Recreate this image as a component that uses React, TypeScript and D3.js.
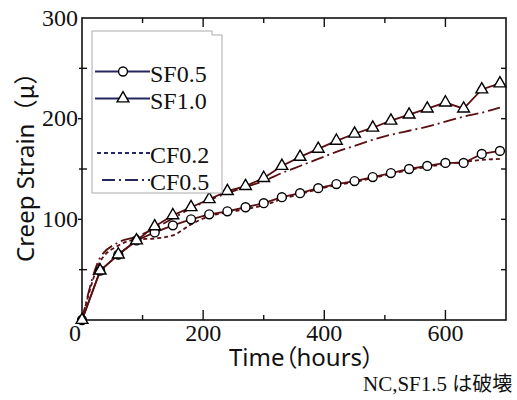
import { useEffect, useRef } from 'react';
import * as d3 from 'd3';

// measured every 30 hours
const hours = [0, 30, 60, 90, 120, 150, 180, 210, 240, 270, 300, 330, 360, 390, 420, 450, 480, 510, 540, 570, 600, 630, 660, 690];
const sf05 = [0, 49, 65, 79, 87, 94, 100, 105, 108, 112, 116, 122, 126, 131, 135, 138, 142, 146, 150, 153, 156, 156, 165, 168];
const sf10 = [0, 49, 65, 79, 93, 104, 112, 120, 128, 133, 141, 153, 162, 170, 178, 185, 191, 198, 204, 210, 216, 210, 229, 235];
const cf02 = [0, 58, 74, 80, 81, 84, 95, 103, 107, 110, 114, 120, 125, 130, 134, 137, 141, 145, 149, 152, 155, 157, 159, 160];
const cf05 = [0, 62, 77, 83, 91, 101, 111, 119, 126, 132, 138, 146, 153, 160, 167, 173, 179, 184, 188, 192, 197, 202, 206, 211];

const xMajor = [200, 400, 600];
const xMinor = [100, 300, 500];
const yMajor = [100, 200];
const yMinor = [50, 150, 250];
const yRight = [50, 100, 150, 200, 250];

const [width, height] = [517, 400];
const [left, right, top, bottom] = [82, 506, 18, 320];
const lineColor = '#5a0f12';
const legendColor = '#262660';
const serif = '"Liberation Serif", serif';
const sans = '"Noto Sans", sans-serif';
const cjk = '"Noto Sans CJK JP", sans-serif';

function App() {
    const node = useRef(null);
    useEffect(() => {
        document.body.style.margin = '0';
        if (!node.current) return;
        const svg = d3.select(node.current);
        svg.selectAll('*').remove();

        const x = d3.scaleLinear().domain([0, 700]).range([left, right]);
        const y = d3.scaleLinear().domain([0, 300]).range([bottom, top]);

        // frame
        svg.append('rect')
            .attr('x', left).attr('y', top)
            .attr('width', right - left).attr('height', bottom - top)
            .attr('fill', 'none').attr('stroke', '#111').attr('stroke-width', 1.6);

        const tick = (x1, y1, x2, y2) => svg.append('line')
            .attr('x1', x1).attr('y1', y1).attr('x2', x2).attr('y2', y2)
            .attr('stroke', '#111').attr('stroke-width', 1.4);

        xMajor.forEach(t => { tick(x(t), bottom, x(t), bottom - 10); tick(x(t), top, x(t), top + 9); });
        xMinor.forEach(t => { tick(x(t), bottom, x(t), bottom - 5); tick(x(t), top, x(t), top + 5); });
        yMajor.forEach(v => tick(left - 4, y(v), left, y(v)));
        yMinor.forEach(v => tick(left - 3, y(v), left + 5, y(v)));
        yRight.forEach(v => tick(right, y(v), right - 5, y(v)));

        // tick labels
        const labels = svg.append('g').attr('font-family', serif).attr('font-size', 24).attr('fill', '#111');
        [100, 200, 300].forEach(v => labels.append('text')
            .attr('x', left - 4).attr('y', y(v) + 7.5).attr('text-anchor', 'end').text(v));
        xMajor.forEach(t => labels.append('text')
            .attr('x', x(t)).attr('y', bottom + 21).attr('text-anchor', 'middle').text(t));
        labels.append('text').attr('x', left - 7).attr('y', bottom + 21).attr('text-anchor', 'middle').text(0);

        // axis titles
        const xt = svg.append('text').attr('x', 229).attr('y', 366)
            .attr('font-family', sans).attr('font-size', 24).attr('fill', '#111');
        xt.append('tspan').text('Time');
        xt.append('tspan').attr('font-family', cjk).style('font-feature-settings', '"palt"').text('（');
        xt.append('tspan').text('hours');
        xt.append('tspan').attr('font-family', cjk).style('font-feature-settings', '"palt"').text('）');

        const yt = svg.append('text').attr('transform', 'translate(34,262) rotate(-90)')
            .attr('font-family', sans).attr('font-size', 24).attr('fill', '#111');
        yt.append('tspan').text('Creep Strain');
        yt.append('tspan').attr('font-family', cjk).text('（μ）');

        const note = svg.append('text').attr('x', 363).attr('y', 391).attr('fill', '#111');
        note.append('tspan').attr('font-family', serif).attr('font-size', 21).text('NC,SF1.5 ');
        note.append('tspan').attr('font-family', cjk).attr('font-size', 20).text('は破壊');

        // series
        const series = [
            { name: 'CF0.2', values: cf02, dash: '4,3', marker: null, curve: d3.curveMonotoneX },
            { name: 'CF0.5', values: cf05, dash: '13,4,2,4', marker: null, curve: d3.curveMonotoneX },
            { name: 'SF0.5', values: sf05, dash: null, marker: d3.symbolCircle, curve: d3.curveLinear },
            { name: 'SF1.0', values: sf10, dash: null, marker: d3.symbolTriangle, curve: d3.curveLinear },
        ];
        const plot = svg.append('g');
        series.forEach(s => {
            const line = d3.line<number>().x((_, i) => x(hours[i])).y(d => y(d)).curve(s.curve);
            plot.append('path').attr('d', line(s.values))
                .attr('fill', 'none').attr('stroke', lineColor).attr('stroke-width', 1.8)
                .attr('stroke-dasharray', s.dash);
        });
        series.filter(s => s.marker).forEach(s => {
            const sym = d3.symbol().type(s.marker).size(s.marker === d3.symbolCircle ? 62 : 60);
            plot.selectAll(null).data(s.values).enter().append('path')
                .attr('d', sym())
                .attr('transform', (d, i) => `translate(${x(hours[i])},${y(d)})`)
                .attr('fill', '#fff').attr('stroke', '#000').attr('stroke-width', 1.4);
        });

        // legend
        const lg = svg.append('g');
        lg.append('path').attr('d', 'M92,31 H212 V35 H222 V193 H92 Z')
            .attr('fill', '#fff').attr('stroke', '#aaa').attr('stroke-width', 1);
        const rows = [
            { s: series[2], y: 71.5, x0: 95 },
            { s: series[3], y: 98.5, x0: 95 },
            { s: series[0], y: 153, x0: 97 },
            { s: series[1], y: 180, x0: 102 },
        ];
        rows.forEach(r => {
            lg.append('line').attr('x1', r.x0).attr('x2', 150).attr('y1', r.y).attr('y2', r.y)
                .attr('stroke', legendColor).attr('stroke-width', 1.8).attr('stroke-dasharray', r.s.dash);
            if (r.s.marker) {
                lg.append('path').attr('d', d3.symbol().type(r.s.marker).size(r.s.marker === d3.symbolCircle ? 62 : 60)())
                    .attr('transform', `translate(123,${r.y})`)
                    .attr('fill', '#fff').attr('stroke', '#000').attr('stroke-width', 1.4);
            }
            lg.append('text').attr('x', 150).attr('y', r.y + 10)
                .attr('font-family', serif).attr('font-size', 24).attr('fill', '#111').text(r.s.name);
        });
    }, [node]);
    return (
        <svg ref={node} width={width} height={height} style={{ display: 'block', background: '#fff' }}></svg>
    );
}

export default App;
